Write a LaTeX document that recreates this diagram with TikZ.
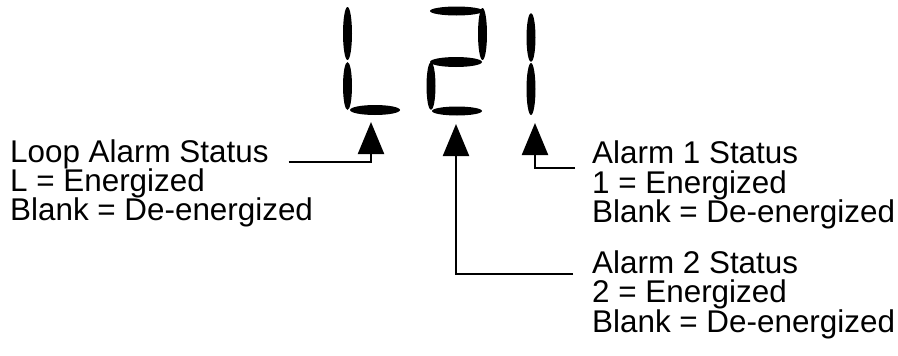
\documentclass[tikz,border=0pt]{standalone}
\usepackage{fontspec}
\setmainfont{Liberation Sans}
\usetikzlibrary{arrows.meta}
\begin{document}
\begin{tikzpicture}[x=1pt,y=-1pt,
  seg/.style={fill=black,draw=none},
  lbl/.style={anchor=base west,inner sep=0pt,font=\fontsize{31.4}{30}\selectfont},
  conn/.style={line width=2.3pt,-{Triangle[width=26pt,length=32pt]}}]
\useasboundingbox (0,0) rectangle (898,356);
% digit L
\fill[seg] (347.5,33.5) ellipse [x radius=4.5, y radius=26.5];
\fill[seg] (347.5,86) ellipse [x radius=4.5, y radius=24];
\fill[seg] (375,110) ellipse [x radius=25, y radius=5];
% digit 2
\fill[seg] (456.5,11) ellipse [x radius=26.5, y radius=4.5];
\fill[seg] (482.5,34) ellipse [x radius=4.5, y radius=26];
\fill[seg] (456,62) ellipse [x radius=26, y radius=5];
\fill[seg] (431,86) ellipse [x radius=4.5, y radius=24];
\fill[seg] (457,111) ellipse [x radius=25, y radius=4.5];
% digit 1
\fill[seg] (531,37.5) ellipse [x radius=4.5, y radius=24.5];
\fill[seg] (531,89) ellipse [x radius=4.5, y radius=26];
% labels
\node[lbl] (loopA) at (10,162) {Loop Alarm Status};
\node[lbl] (loopB) at (10,191) {L = Energized};
\node[lbl] (loopC) at (10,220.5) {Blank = De-energized};
\node[lbl] (aoneA) at (592,163) {Alarm 1 Status};
\node[lbl] (aoneB) at (592,193) {1 = Energized};
\node[lbl] (aoneC) at (592,222.5) {Blank = De-energized};
\node[lbl] (atwoA) at (592,273) {Alarm 2 Status};
\node[lbl] (atwoB) at (592,302.5) {2 = Energized};
\node[lbl] (atwoC) at (592,332.5) {Blank = De-energized};
% arrow apexes
\coordinate (tipL) at (371,122);
\coordinate (tipT) at (456,124);
\coordinate (tipO) at (535,123);
% connectors
\draw[conn] ([xshift=20pt]loopA.base east) -| (tipL);
\draw[conn] ([xshift=-17pt,yshift=-5pt]aoneA.base west) -| (tipO);
\draw[conn] ([xshift=-19pt,yshift=-1pt]atwoA.base west) -| (tipT);
\end{tikzpicture}
\end{document}
